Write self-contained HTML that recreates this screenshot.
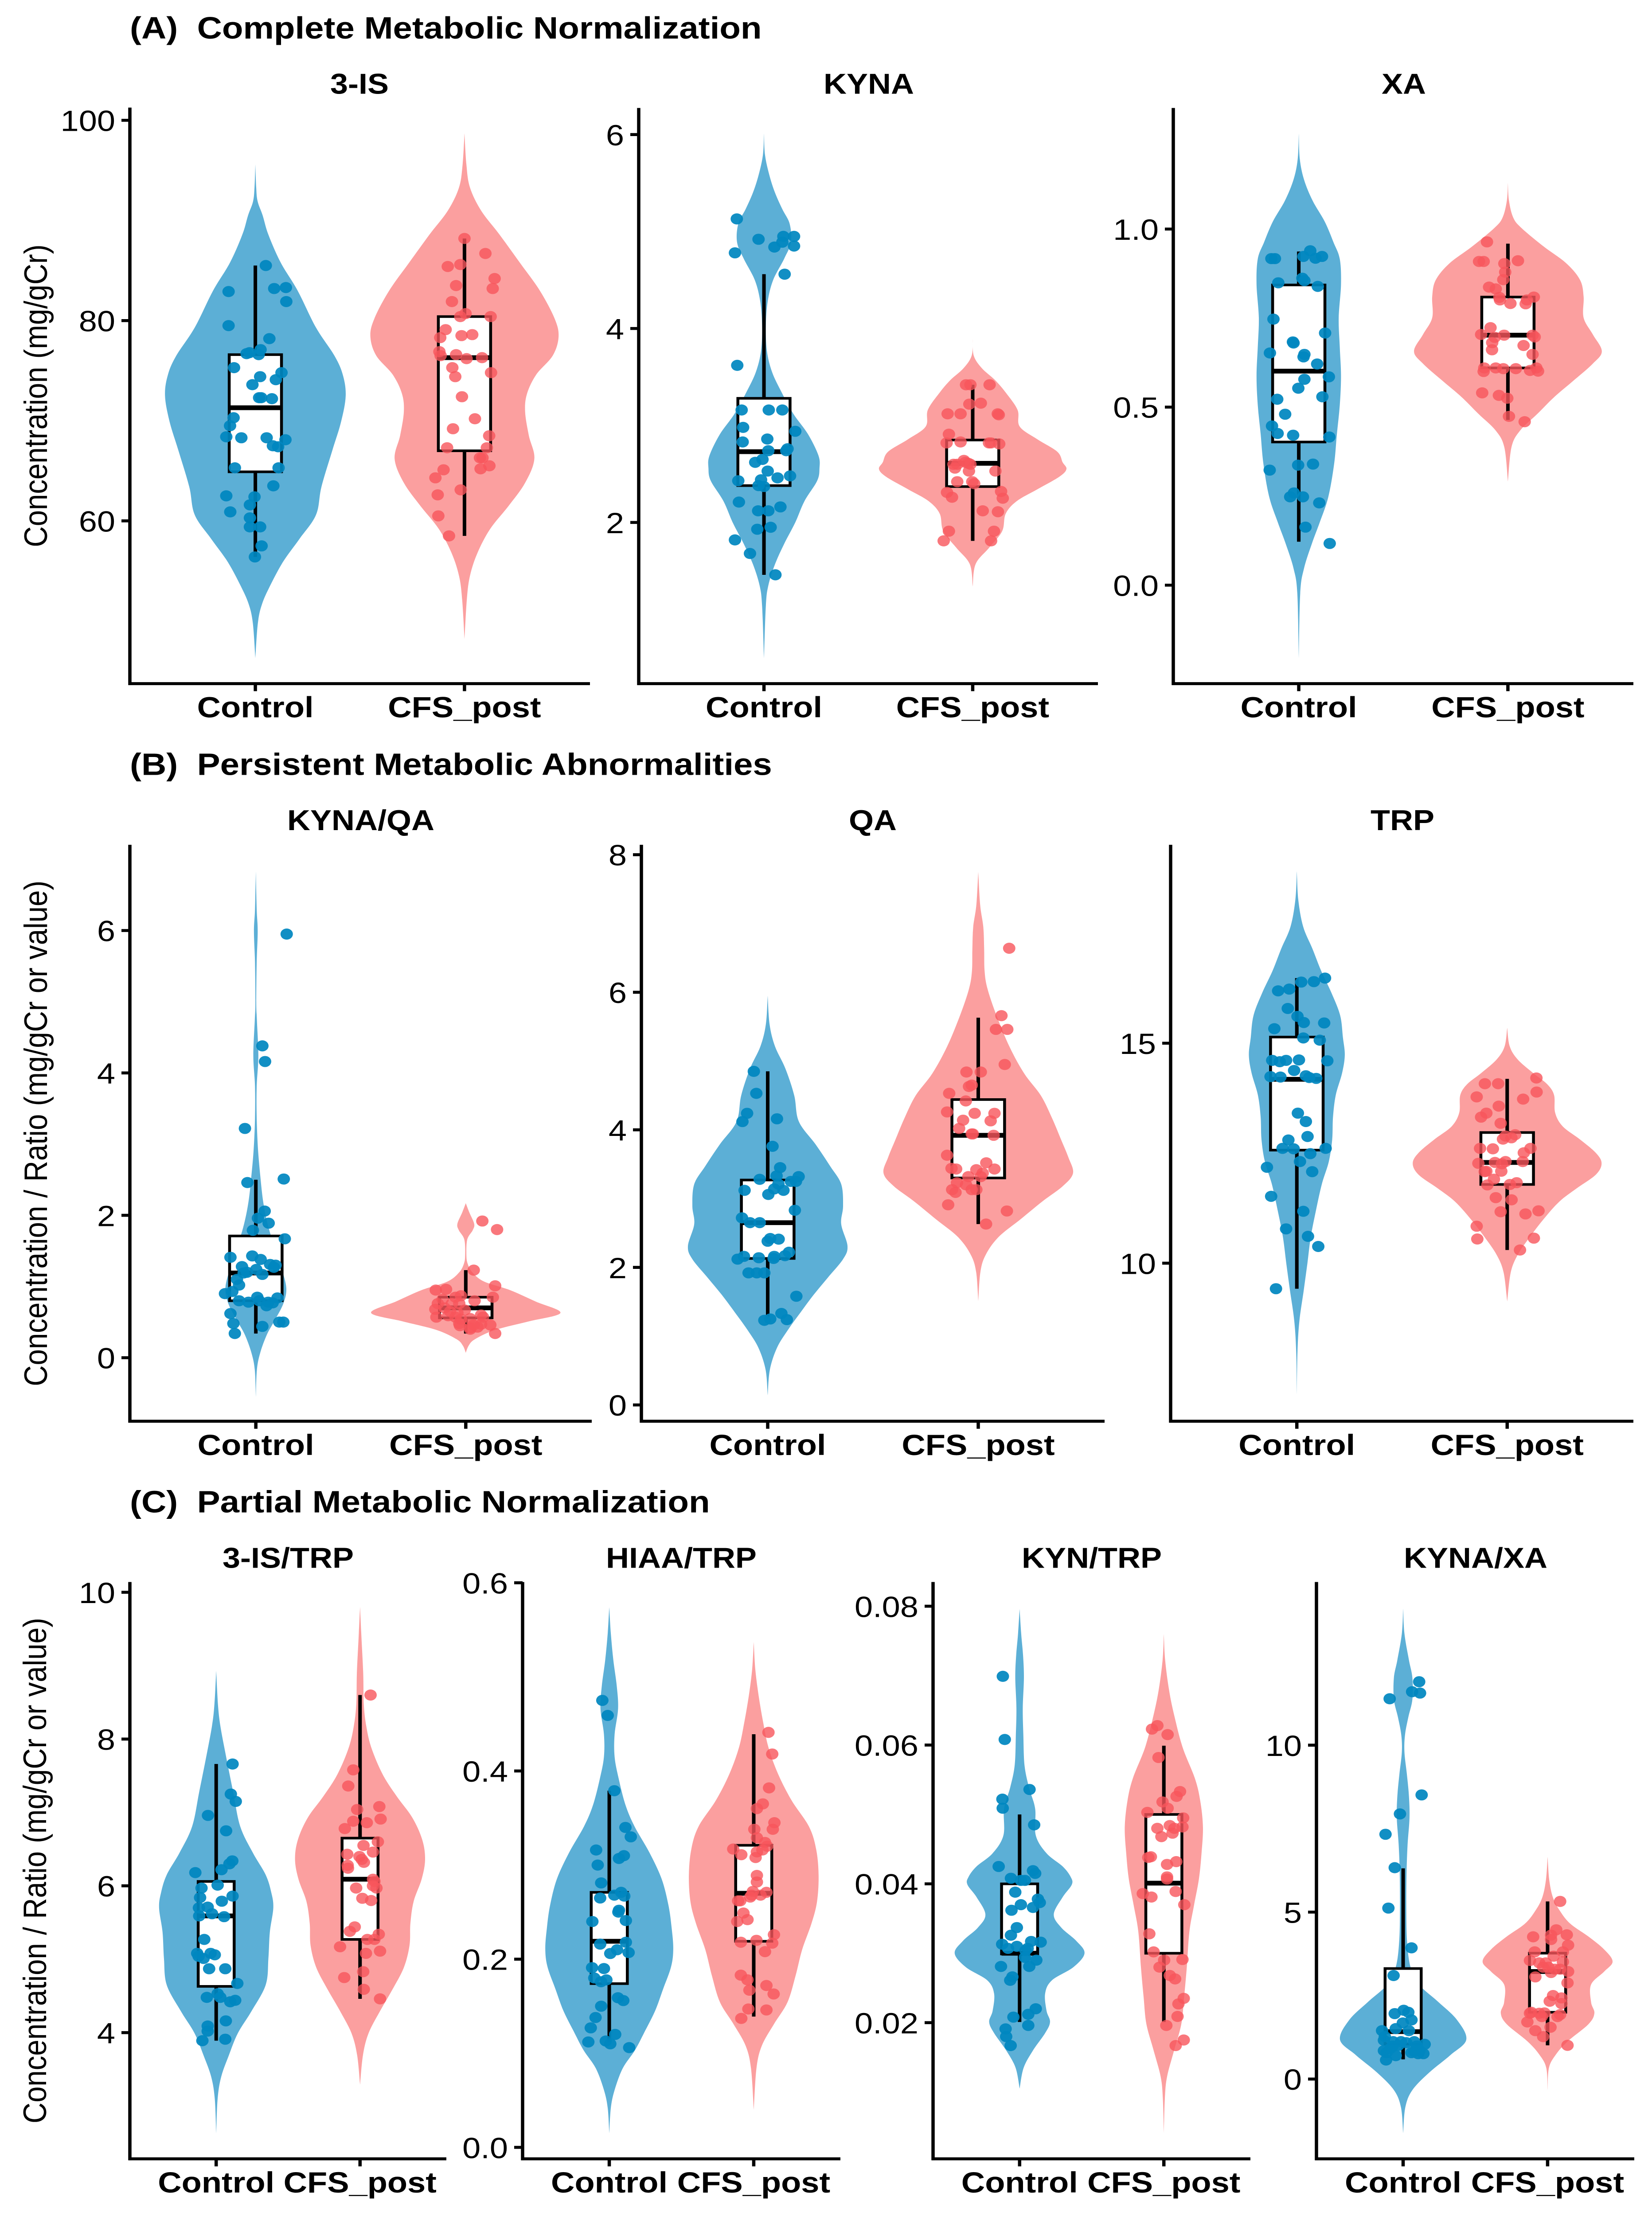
<!DOCTYPE html>
<html lang="en">
<head>
<meta charset="utf-8">
<title>Metabolic normalization violin plots</title>
<style>
html,body{margin:0;padding:0;background:#fff;width:100%;height:100%;overflow:hidden;}
svg{display:block;position:fixed;left:0;top:0;width:100vw;height:100vh;overflow:hidden;}
text{font-family:"Liberation Sans",Arial,sans-serif;fill:#000;white-space:pre;}
.section{font-size:78px;font-weight:bold;}
.ptitle{font-size:72px;font-weight:bold;text-anchor:middle;}
.ytitle{font-size:73px;text-anchor:middle;}
</style>
</head>
<body>
<svg id="chart" xmlns="http://www.w3.org/2000/svg" viewBox="0 0 3727 5582" preserveAspectRatio="none">
<rect x="0" y="0" width="3727" height="5582" fill="#ffffff"/>
<text class="section" x="293" y="97" xml:space="preserve">(A)  Complete Metabolic Normalization</text>
<text class="section" x="293" y="1952" xml:space="preserve">(B)  Persistent Metabolic Abnormalities</text>
<text class="section" x="293" y="3810" xml:space="preserve">(C)  Partial Metabolic Normalization</text>
<text class="ptitle" x="811" y="236">3-IS</text>
<text class="ptitle" x="1960" y="236">KYNA</text>
<text class="ptitle" x="3167" y="236">XA</text>
<text class="ptitle" x="814" y="2091">KYNA/QA</text>
<text class="ptitle" x="1969" y="2091">QA</text>
<text class="ptitle" x="3164" y="2091">TRP</text>
<text class="ptitle" x="650" y="3949">3-IS/TRP</text>
<text class="ptitle" x="1537" y="3949">HIAA/TRP</text>
<text class="ptitle" x="2463" y="3949">KYN/TRP</text>
<text class="ptitle" x="3329" y="3949">KYNA/XA</text>
<text class="ytitle" transform="translate(106,997) rotate(-90)">Concentration (mg/gCr)</text>
<text class="ytitle" transform="translate(106,2855) rotate(-90)">Concentration / Ratio (mg/gCr or value)</text>
<text class="ytitle" transform="translate(104,4712) rotate(-90)">Concentration / Ratio (mg/gCr or value)</text>
</svg>
<script>
const categories=['Control','CFS_post'];

// 3-IS
const is3ControlValues=[85.5,83.2,83.3,81.9,82.9,79.5,78.2,77.1,76.8,76.7,76.6,75.3,74.8,74.4,74.1,73.6,72.3,72.3,72.2,70.3,69.5,68.4,68.3,68.3,68.1,67.5,67.4,65.3,65.3,63.5,62.5,62.4,61.6,60.9,60.3,59.4,59.4,57.5,56.4];
const is3ControlJitter=[.05,.09,.146,.148,-.128,-.128,.067,.025,-.028,-.042,.016,-.102,.125,.023,.098,-.014,.018,.028,.079,-.104,-.121,-.139,-.067,.054,.144,.084,.109,-.098,.111,.086,-.139,-.004,-.026,-.12,-.026,-.026,.023,.03,-.002];
const is3ControlLevels=[95.6,93.3,91.9,90.5,88.6,85.8,83,79.3,76.5,74.6,72.5,69.9,67.1,63.4,60.6,58.2,55.9,53.5,51.7,49.8,46.3];
const is3ControlWidths=[0,.004,.011,.035,.062,.121,.202,.29,.378,.418,.432,.41,.369,.316,.29,.211,.132,.07,.032,.012,0];
const is3ControlBox=[56.4,64.9,71.3,76.6,85.5];
const is3CfsValues=[88.2,86.7,85.4,85.6,84.2,83.5,83.2,81.9,80.7,80.4,80.4,79.1,78.3,78.5,78.6,76.9,76.5,76.6,76.2,76.3,74.8,75.3,74.4,72.4,70.2,69.2,68.5,67.3,67.3,66.3,66.3,65.5,65.2,65.1,64.3,63.1,62.6,60.5,58.5];
const is3CfsJitter=[0,.1,-.08,-.02,.144,-.04,.135,-.06,.005,-.02,.125,-.09,-.116,-.014,.037,-.12,-.114,-.04,.01,.084,.127,-.058,-.044,-.012,.05,-.055,.118,.107,-.083,.074,.086,.119,.077,-.1,-.139,-.018,-.128,-.125,-.074];
const is3CfsLevels=[98.7,95.6,93.3,91,88.6,85.8,83,80.2,78.4,76.5,74.6,72.7,70.9,68.5,66.2,63.8,61.5,59.2,56.8,54.5,52.1,48.2];
const is3CfsWidths=[0,.009,.026,.079,.167,.264,.36,.431,.45,.422,.343,.299,.29,.308,.334,.29,.211,.123,.062,.026,.011,0];
const is3CfsBox=[58.5,67,76.3,80.4,88.2];

// KYNA
const kynaControlValues=[5.13,4.92,4.95,4.95,4.89,4.84,4.85,4.78,4.56,3.62,3.16,3.16,3.16,2.98,2.94,2.86,2.83,2.76,2.74,2.74,2.65,2.62,2.53,2.48,2.46,2.44,2.43,2.38,2.37,2.21,2.16,2.12,2.12,1.95,1.93,1.82,1.68,1.46];
const kynaControlJitter=[-.13,-.026,.093,.144,.088,.05,.144,-.139,.099,-.128,-.107,.023,.088,-.1,.15,.016,-.102,.113,.021,.107,-.007,-.042,.018,.125,.065,-.014,-.123,-.026,0,-.12,.079,-.028,.021,.032,-.032,-.139,-.067,.055];
const kynaControlLevels=[6.01,5.79,5.58,5.4,5.23,5.08,4.89,4.72,4.5,4.28,4.03,3.77,3.55,3.34,3.12,2.91,2.69,2.56,2.43,2.22,2,1.78,1.57,1.35,1.14,.6];
const kynaControlWidths=[0,.005,.026,.053,.088,.123,.129,.097,.044,.018,.009,.014,.039,.085,.141,.211,.261,.266,.255,.194,.15,.097,.053,.021,.009,0];
const kynaControlBox=[1.46,2.38,2.73,3.28,4.56];
const kynaCfsValues=[3.42,3.42,3.42,3.22,3.23,3.12,3.12,3.12,3.11,2.91,2.82,2.83,2.82,2.82,2.81,2.64,2.6,2.6,2.61,2.56,2.53,2.53,2.42,2.42,2.4,2.31,2.32,2.26,2.25,2.12,2.11,1.91,1.91,1.81,1.81,2.62,2.6];
const kynaCfsJitter=[-.032,-.011,.081,-.016,.039,-.12,-.058,.12,.125,-.114,-.125,-.058,.078,.088,.127,-.042,-.092,-.074,-.021,-.085,-.018,.109,-.074,-.002,.007,-.123,.136,-.099,.144,.048,.121,-.114,.102,-.139,.088,-.035,-.011];
const kynaCfsLevels=[3.89,3.72,3.59,3.47,3.34,3.16,2.99,2.86,2.73,2.62,2.55,2.47,2.34,2.22,2.09,1.91,1.74,1.57,1.34];
const kynaCfsWidths=[0,.005,.044,.106,.158,.215,.225,.308,.405,.431,.449,.414,.308,.211,.158,.141,.079,.014,0];
const kynaCfsBox=[1.81,2.37,2.61,2.85,3.42];

// XA
const xaControlValues=[.917,.917,.923,.939,.918,.923,.862,.855,.849,.839,.747,.708,.683,.68,.652,.648,.641,.621,.585,.578,.553,.522,.529,.48,.447,.426,.421,.416,.323,.337,.34,.259,.248,.248,.231,.163,.117];
const xaControlJitter=[-.131,-.114,.022,.055,.08,.111,.017,.027,-.098,.091,-.121,.126,-.028,-.025,-.138,.027,.023,.088,.144,.027,-.002,-.103,.113,-.065,-.128,-.101,-.027,.146,-.139,-.003,.068,-.023,-.041,.02,.098,.032,.148];
const xaControlLevels=[1.268,1.197,1.139,1.08,1.021,.963,.916,.845,.751,.669,.587,.505,.423,.34,.247,.176,.117,.047,-.023,-.205];
const xaControlWidths=[0,.005,.025,.066,.124,.166,.196,.202,.191,.196,.202,.196,.182,.169,.141,.1,.063,.025,.007,0];
const xaControlBox=[.122,.402,.601,.843,.937];
const xaCfsValues=[.964,.909,.909,.911,.903,.879,.858,.837,.832,.808,.809,.801,.801,.791,.79,.723,.704,.696,.702,.702,.697,.681,.673,.661,.648,.61,.6,.61,.608,.608,.61,.603,.601,.54,.533,.525,.474,.459];
const xaCfsJitter=[-.1,-.138,-.116,.048,-.017,-.013,-.022,-.09,-.058,-.041,.124,-.038,.091,.012,.085,-.083,-.128,-.063,-.018,.118,.128,-.075,.075,-.076,.118,-.113,-.116,-.058,-.022,.038,.136,.106,.144,-.123,-.043,-.003,.005,.08];
const xaCfsLevels=[1.129,1.08,1.033,1.004,.951,.904,.857,.81,.751,.704,.657,.622,.575,.528,.481,.434,.387,.291];
const xaCfsWidths=[0,.005,.025,.063,.171,.279,.345,.362,.362,.406,.449,.406,.315,.221,.141,.058,.017,0];
const xaCfsBox=[.464,.61,.702,.809,.959];

// KYNA/QA
const kynaQaControlValues=[5.95,4.38,4.16,3.22,2.46,2.51,2.06,1.96,1.89,1.79,1.67,1.41,1.43,1.38,1.31,1.3,1.28,1.27,1.24,1.2,1.19,1.17,1.1,1.02,.93,.9,.85,.84,.8,.78,.8,.78,.77,.73,.62,.48,.5,.5,.44,.34];
const kynaQaControlJitter=[.147,.031,.044,-.052,-.04,.133,.042,.01,.061,-.014,.138,-.121,-.017,.023,.068,.094,-.066,.086,.002,-.042,-.058,.031,-.09,-.08,-.112,-.147,.007,.103,-.08,-.035,.016,.059,.08,.051,-.121,-.107,.112,.131,.031,-.1];
const kynaQaControlLevels=[6.83,6.3,5.99,5.55,4.99,4.74,4.24,3.81,3.37,2.94,2.56,2.19,1.88,1.57,1.26,.98,.76,.51,.32,.07,-.17,-.55];
const kynaQaControlWidths=[0,.004,.009,.004,.002,.005,.012,.004,.004,.01,.021,.035,.056,.087,.122,.145,.131,.087,.052,.021,.005,0];
const kynaQaControlBox=[.34,.8,1.19,1.71,2.5];
const kynaQaCfsValues=[1.92,1.8,1.23,1.01,.95,.96,.85,.87,.85,.8,.82,.76,.76,.76,.7,.68,.67,.65,.63,.6,.57,.57,.55,.54,.59,.57,.48,.46,.47,.46,.45,.42,.34,.4,.43];
const kynaQaCfsJitter=[.079,.149,.038,.14,-.143,-.094,.129,-.023,-.049,.042,-.11,-.133,-.066,-.031,-.101,-.145,-.005,-.075,-.04,.073,-.14,-.049,.021,-.023,-.084,.082,-.031,.117,.073,.038,-.028,.021,.14,.021,.056];
const kynaQaCfsLevels=[2.17,2.04,1.88,1.79,1.66,1.44,1.32,1.2,1.07,.95,.79,.63,.51,.39,.26,.17,.07];
const kynaQaCfsWidths=[0,.017,.04,.033,.007,.003,.009,.031,.087,.21,.332,.451,.3,.14,.044,.014,0];
const kynaQaCfsBox=[.34,.56,.7,.85,1.23];

// QA
const qaControlValues=[4.85,4.53,4.24,4.12,4.16,3.76,3.45,3.33,3.28,3.32,3.25,3.25,3.21,3.12,3.12,3.14,3.06,2.83,2.72,2.65,2.65,2.42,2.41,2.38,2.22,2.17,2.16,2.12,2.14,2.16,2.13,1.92,1.92,1.92,1.58,1.33,1.25,1.23,1.24];
const qaControlJitter=[-.066,-.054,-.098,-.12,.044,.023,.059,.042,-.038,.147,.11,.134,.051,.075,-.11,.031,.003,.129,-.122,-.084,-.038,.012,.052,0,.101,.082,-.113,-.143,-.042,.031,.028,-.091,-.052,-.016,.136,.065,.012,-.016,.091];
const qaControlLevels=[5.95,5.53,5.21,4.89,4.5,4.12,3.79,3.47,3.21,2.89,2.63,2.31,2.12,1.86,1.6,1.35,1.09,.83,.51,.14];
const qaControlWidths=[0,.009,.035,.084,.126,.148,.227,.297,.349,.358,.349,.379,.358,.288,.218,.157,.096,.044,.01,0];
const qaControlBox=[1.25,2.13,2.65,3.27,4.85];
const qaCfsValues=[6.64,5.66,5.46,5.46,4.95,4.84,4.84,4.65,4.63,4.53,4.42,4.26,4.24,4.24,4.14,4.13,4.02,3.94,3.94,3.92,3.63,3.52,3.44,3.43,3.42,3.43,3.37,3.32,3.32,3.23,3.2,3.13,3.09,3.13,3.13,2.91,2.82,2.63];
const qaCfsJitter=[.147,.11,.084,.138,.126,-.056,.012,-.031,-.044,-.138,-.059,-.148,-.017,.077,-.072,.059,-.091,-.026,-.031,.073,-.148,.038,-.127,-.105,-.009,.077,.021,.012,-.047,-.101,-.058,-.124,-.108,-.031,-.009,-.143,.136,.037];
const qaCfsLevels=[7.75,7.27,6.95,6.63,6.31,6.05,5.66,5.21,4.82,4.5,4.18,3.86,3.6,3.37,3.18,2.96,2.7,2.44,2.18,1.93,1.51];
const qaCfsWidths=[0,.009,.024,.028,.03,.044,.087,.148,.218,.297,.349,.393,.428,.45,.401,.305,.201,.096,.035,.01,0];
const qaCfsBox=[2.63,3.3,3.92,4.44,5.63];

// TRP
const trpControlValues=[16.48,16.4,16.39,16.23,16.19,15.79,15.61,15.47,15.46,15.33,15.12,15.07,14.61,14.58,14.61,14.62,14.6,14.38,14.24,14.23,14.26,14.22,14.2,13.41,13.22,12.88,12.8,12.61,12.6,12.61,12.49,12.31,12.18,12.08,11.52,11.18,10.78,10.61,10.38,9.42];
const trpControlJitter=[.134,.081,.021,-.036,-.089,-.043,.003,.033,.13,-.107,.031,.109,-.117,-.081,-.051,.01,.145,-.013,-.125,-.078,.043,.059,.092,.005,.043,.051,-.04,-.068,-.015,.137,.064,.015,-.142,.073,-.122,.031,-.051,.053,.102,-.099];
const trpControlLevels=[18.91,18.26,17.65,17.15,16.64,16.14,15.63,15.13,14.73,14.32,13.82,13.32,12.81,12.31,11.8,11.2,10.59,9.99,9.39,8.68,7.97,7.02];
const trpControlWidths=[0,.007,.03,.074,.116,.165,.206,.219,.228,.215,.185,.172,.168,.152,.119,.091,.066,.05,.033,.012,.003,0];
const trpControlBox=[9.42,12.57,14.18,15.14,16.48];
const trpCfsValues=[14.21,14.08,14.08,13.89,13.78,13.73,13.57,13.41,13.32,13.18,12.92,12.89,12.85,12.82,12.61,12.6,12.61,12.51,12.29,12.31,12.31,12.27,12.26,12.09,12.09,12.08,11.91,11.83,11.79,11.78,11.49,11.44,11.17,11.19,11.12,10.84,10.57,10.55,10.3];
const trpCfsJitter=[.139,-.106,-.043,.14,-.145,.076,-.04,-.099,-.124,-.031,.038,-.008,.02,-.02,-.129,-.068,.111,.079,-.058,-.008,.074,-.137,-.025,-.028,-.099,-.107,-.063,.045,.013,-.094,-.054,.021,-.031,.149,.087,-.145,.127,-.142,.061];
const trpCfsLevels=[15.35,14.93,14.63,14.32,14.07,13.82,13.42,13.11,12.81,12.51,12.27,12.01,11.7,11.4,11,10.59,10.19,9.79,9.13];
const trpCfsWidths=[0,.012,.05,.124,.19,.223,.228,.264,.347,.421,.449,.421,.33,.248,.173,.107,.05,.017,0];
const trpCfsBox=[10.3,11.79,12.29,12.97,14.19];

// 3-IS/TRP
const isTrpControlValues=[7.66,7.25,7.15,6.96,6.75,6.34,6.3,6.22,6.18,6.01,5.97,5.86,5.84,5.79,5.71,5.7,5.62,5.59,5.58,5.27,5.08,5.08,5.06,5.04,5.01,4.87,4.87,4.67,4.53,4.48,4.48,4.42,4.44,4.16,4.09,4.02,3.91,3.89];
const isTrpControlJitter=[.114,.102,.136,-.057,.069,.112,.092,.037,-.145,.01,-.102,.114,-.112,.039,-.059,-.12,-.029,-.118,.055,-.083,-.132,-.039,-.01,-.122,-.088,-.049,.063,.147,.01,-.065,.029,.098,.132,.067,-.059,-.059,.063,-.096];
const isTrpControlLevels=[8.93,8.48,8.18,7.76,7.28,6.81,6.45,6.15,5.91,5.7,5.37,5.01,4.65,4.29,3.99,3.69,3.4,3.1,2.63];
const isTrpControlWidths=[0,.012,.029,.069,.118,.167,.255,.344,.383,.397,.373,.363,.344,.245,.15,.088,.035,.01,0];
const isTrpControlBox=[3.89,4.63,5.59,6.06,7.66];
const isTrpCfsValues=[8.6,7.58,7.36,7.04,7.08,6.88,6.86,6.91,6.78,6.6,6.55,6.43,6.46,6.4,6.36,6.32,6.28,6.24,6.09,6.06,6,5.97,5.97,5.83,5.8,5.44,5.38,5.34,5.27,5.27,5.17,5.08,5.11,4.83,4.75,4.59,4.46];
const isTrpCfsJitter=[.073,-.047,-.082,-.02,.134,-.047,.047,.143,-.106,.124,.024,-.089,.09,-.004,.012,.027,-.086,-.084,.09,.1,.09,.114,-.027,.016,.077,-.037,-.071,.13,.051,.1,-.139,.041,.139,.022,-.11,.026,.139];
const isTrpCfsLevels=[9.8,9.38,8.9,8.48,8.18,7.88,7.52,7.22,6.93,6.63,6.36,6.09,5.79,5.49,5.19,4.89,4.59,4.29,3.99,3.69,3.29];
const isTrpCfsWidths=[0,.01,.022,.026,.043,.079,.157,.255,.363,.432,.452,.428,.373,.35,.344,.305,.226,.138,.059,.02,0];
const isTrpCfsBox=[4.46,5.27,6.09,6.65,8.6];

// HIAA/TRP
const hiaaTrpControlValues=[.475,.459,.379,.34,.33,.316,.31,.307,.3,.281,.268,.271,.267,.265,.252,.25,.241,.24,.218,.216,.21,.206,.207,.191,.19,.18,.178,.176,.159,.156,.15,.138,.127,.12,.112,.113,.11,.106];
const hiaaTrpControlJitter=[-.048,-.011,.035,.112,.149,-.091,.101,.067,-.08,-.056,.035,.082,.104,-.063,.067,.063,.115,-.117,.115,-.063,.054,.007,.134,-.119,-.037,-.104,-.02,-.057,.06,.097,-.056,-.095,-.128,.041,-.145,-.024,.007,.138];
const hiaaTrpControlLevels=[.574,.546,.518,.49,.466,.439,.415,.392,.364,.341,.313,.285,.257,.233,.211,.192,.168,.145,.122,.103,.084,.061,.042,.015];
const hiaaTrpControlWidths=[0,.011,.028,.052,.061,.037,.037,.065,.112,.175,.279,.363,.41,.432,.443,.428,.372,.317,.242,.177,.093,.037,.011,0];
const hiaaTrpControlBox=[.112,.174,.219,.271,.379];
const hiaaTrpCfsValues=[.441,.418,.382,.365,.36,.345,.338,.338,.329,.324,.32,.317,.316,.314,.311,.308,.289,.282,.272,.271,.268,.268,.266,.262,.262,.249,.242,.24,.226,.218,.22,.217,.208,.183,.178,.172,.167,.163,.147,.146,.137];
const hiaaTrpCfsJitter=[.102,.128,.106,.063,.022,.143,.004,.132,.022,.078,.093,-.142,.06,.022,-.086,.013,.022,.022,-.006,.088,-.015,.047,-.024,-.108,-.093,-.071,-.043,-.114,.14,-.089,.019,.128,.078,-.089,-.043,.088,-.03,.138,-.037,.088,-.086];
const hiaaTrpCfsLevels=[.537,.508,.48,.452,.425,.397,.369,.341,.317,.289,.261,.238,.21,.182,.154,.131,.108,.084,.04];
const hiaaTrpCfsWidths=[0,.011,.034,.065,.102,.168,.261,.382,.432,.449,.438,.4,.335,.289,.233,.14,.056,.019,0];
const hiaaTrpCfsBox=[.139,.219,.27,.321,.439];

// KYN/TRP
const kynTrpControlValues=[.0699,.0608,.0536,.0522,.0509,.0485,.0425,.0419,.0415,.0408,.0405,.0405,.0388,.0378,.0373,.037,.0366,.0362,.0337,.0326,.0317,.0313,.0316,.031,.0307,.0307,.0304,.0294,.029,.0281,.0281,.0266,.0261,.022,.0212,.0208,.0196,.0191,.018,.0167];
const kynTrpControlJitter=[-.116,-.103,.069,-.119,-.117,.101,-.145,.093,.108,-.06,.009,.037,-.03,.127,.14,.009,.093,-.056,-.019,-.06,.08,-.121,.146,-.019,-.08,.056,.041,.037,.116,-.129,.067,-.05,-.065,.112,.06,-.043,.06,-.097,-.093,-.062];
const kynTrpControlLevels=[.0796,.076,.0729,.0697,.0653,.0615,.0571,.0539,.0508,.047,.0444,.0425,.041,.0399,.0381,.0356,.0337,.0318,.03,.028,.0261,.0242,.0217,.0201,.0185,.016,.0135,.0105];
const kynTrpControlWidths=[0,.011,.024,.03,.022,.026,.034,.065,.108,.112,.187,.299,.354,.362,.299,.237,.289,.392,.45,.373,.224,.177,.187,.211,.177,.093,.028,0];
const kynTrpControlBox=[.0201,.0299,.03,.04,.05];
const kynTrpCfsValues=[.0623,.0628,.0615,.0582,.0533,.0526,.0518,.0509,.0503,.0495,.048,.0484,.048,.0482,.0473,.0468,.0439,.0438,.0432,.0428,.041,.0407,.0389,.0386,.0381,.037,.0328,.0302,.029,.0291,.028,.0268,.0263,.0235,.0227,.0209,.0196,.0175,.0167];
const kynTrpCfsJitter=[-.082,-.045,.026,-.037,.112,.088,-.009,.026,-.114,.134,-.045,.041,.073,.129,.06,-.017,-.09,-.108,.086,.022,.022,.022,.082,-.146,-.086,.142,-.101,-.071,.002,.129,-.03,.041,.078,.138,.101,.095,.017,.138,.082];
const kynTrpCfsLevels=[.076,.0722,.0678,.064,.0596,.0552,.052,.0482,.0444,.0407,.0369,.0331,.028,.0236,.0198,.016,.0122,.0091,.0041];
const kynTrpCfsWidths=[0,.009,.037,.075,.131,.215,.252,.271,.261,.243,.209,.177,.159,.14,.121,.071,.022,.007,0];
const kynTrpCfsBox=[.0201,.03,.0401,.05,.0599];

// KYNA/XA
const kynaXaControlValues=[11.9,11.6,11.56,11.39,8.51,7.94,7.33,6.33,5.12,3.93,3.1,2.06,1.96,2,1.77,1.68,1.51,1.45,1.45,1.27,1.12,1.16,1.12,1.12,1.04,.99,.85,1.01,.92,.83,.79,.76,.76,.7,.57,.99,1.09,.79,.85];
const kynaXaControlJitter=[.111,.062,.117,-.093,.128,-.022,-.122,-.058,-.102,.058,-.066,.004,-.058,.036,.058,-.002,-.051,-.146,.04,-.127,-.069,-.133,-.015,.077,.149,.095,-.133,-.033,-.087,.077,.058,.104,.14,-.051,-.118,-.073,.022,-.115,.113];
const kynaXaControlLevels=[14.09,13.34,12.55,12.02,11.37,10.84,10.31,9.79,9.13,8.48,7.82,7.03,6.24,5.19,4.14,3.35,2.83,2.3,1.77,1.18,.72,.2,-.33,-.85,-1.62];
const kynaXaControlWidths=[0,.009,.04,.064,.064,.036,.013,.009,.026,.04,.044,.031,.024,.022,.027,.051,.109,.246,.373,.437,.328,.182,.064,.015,0];
const kynaXaControlBox=[.59,1.05,1.42,3.31,6.31];
const kynaXaCfsValues=[5.32,4.47,4.26,4.32,4.31,4.18,4.01,3.81,3.81,3.68,3.55,3.51,3.48,3.48,3.35,3.29,3.22,3.19,3.06,2.88,2.5,2.43,2.33,2.26,2,1.98,1.93,1.71,1.87,1.87,1.45,1.55,1.27,1.01,1.97,3.29,3.35,1.97];
const kynaXaCfsJitter=[.087,.06,-.1,.133,.024,.024,.142,.106,-.089,.042,-.122,.106,-.058,-.013,.005,.087,.142,.024,-.085,.138,.038,.096,.015,.096,-.113,-.022,.087,-.14,-.04,.069,-.085,.02,-.031,.138,-.058,.051,-.031,-.122];
const kynaXaCfsLevels=[6.66,5.98,5.45,5.06,4.66,4.27,3.88,3.52,3.22,2.83,2.3,1.97,1.64,1.12,.72,.33,-.33];
const kynaXaCfsWidths=[0,.011,.036,.082,.155,.282,.392,.45,.392,.301,.301,.324,.282,.137,.055,.009,0];
const kynaXaCfsBox=[1.01,2,3.22,3.77,5.32];

// Axis tick labels
const is3Ticks=['60','80','100'];
const kynaTicks=['2','4','6'];
const xaTicks=['0.0','0.5','1.0'];
const kynaQaTicks=['0','2','4','6'];
const qaTicks=['0','2','4','6','8'];
const trpTicks=['10','15'];
const isTrpTicks=['4','6','8','10'];
const hiaaTrpTicks=['0.0','0.2','0.4','0.6'];
const kynTrpTicks=['0.02','0.04','0.06','0.08'];
const kynaXaTicks=['0','5','10'];

const panels=[
 {slug:'3-is',frame:[293,1331,271,1722],domain:[43.75,101.27],ticks:is3Ticks,control:[is3ControlValues,is3ControlJitter,is3ControlLevels,is3ControlWidths,is3ControlBox],cfs:[is3CfsValues,is3CfsJitter,is3CfsLevels,is3CfsWidths,is3CfsBox]},
 {slug:'kyna',frame:[1441,2477,272,1722],domain:[.338,6.274],ticks:kynaTicks,control:[kynaControlValues,kynaControlJitter,kynaControlLevels,kynaControlWidths,kynaControlBox],cfs:[kynaCfsValues,kynaCfsJitter,kynaCfsLevels,kynaCfsWidths,kynaCfsBox]},
 {slug:'xa',frame:[2647,3685,272,1722],domain:[-.2765,1.34],ticks:xaTicks,control:[xaControlValues,xaControlJitter,xaControlLevels,xaControlWidths,xaControlBox],cfs:[xaCfsValues,xaCfsJitter,xaCfsLevels,xaCfsWidths,xaCfsBox]},
 {slug:'kyna-qa',frame:[293,1335,2128,3580],domain:[-.892,7.204],ticks:kynaQaTicks,control:[kynaQaControlValues,kynaQaControlJitter,kynaQaControlLevels,kynaQaControlWidths,kynaQaControlBox],cfs:[kynaQaCfsValues,kynaQaCfsJitter,kynaQaCfsLevels,kynaQaCfsWidths,kynaQaCfsBox]},
 {slug:'qa',frame:[1447,2492,2128,3580],domain:[-.237,8.144],ticks:qaTicks,control:[qaControlValues,qaControlJitter,qaControlLevels,qaControlWidths,qaControlBox],cfs:[qaCfsValues,qaCfsJitter,qaCfsLevels,qaCfsWidths,qaCfsBox]},
 {slug:'trp',frame:[2641,3685,2128,3580],domain:[6.408,19.51],ticks:trpTicks,control:[trpControlValues,trpControlJitter,trpControlLevels,trpControlWidths,trpControlBox],cfs:[trpCfsValues,trpCfsJitter,trpCfsLevels,trpCfsWidths,trpCfsBox]},
 {slug:'3-is-trp',frame:[293,1007,3985,5438],domain:[2.28,10.14],ticks:isTrpTicks,control:[isTrpControlValues,isTrpControlJitter,isTrpControlLevels,isTrpControlWidths,isTrpControlBox],cfs:[isTrpCfsValues,isTrpCfsJitter,isTrpCfsLevels,isTrpCfsWidths,isTrpCfsBox]},
 {slug:'hiaa-trp',frame:[1179,1896,3985,5438],domain:[-.0122,.6008],ticks:hiaaTrpTicks,control:[hiaaTrpControlValues,hiaaTrpControlJitter,hiaaTrpControlLevels,hiaaTrpControlWidths,hiaaTrpControlBox],cfs:[hiaaTrpCfsValues,hiaaTrpCfsJitter,hiaaTrpCfsLevels,hiaaTrpCfsWidths,hiaaTrpCfsBox]},
 {slug:'kyn-trp',frame:[2105,2821,3985,5438],domain:[.00038,.08349],ticks:kynTrpTicks,control:[kynTrpControlValues,kynTrpControlJitter,kynTrpControlLevels,kynTrpControlWidths,kynTrpControlBox],cfs:[kynTrpCfsValues,kynTrpCfsJitter,kynTrpCfsLevels,kynTrpCfsWidths,kynTrpCfsBox]},
 {slug:'kyna-xa',frame:[2970,3687,3985,5438],domain:[-2.39,14.887],ticks:kynaXaTicks,control:[kynaXaControlValues,kynaXaControlJitter,kynaXaControlLevels,kynaXaControlWidths,kynaXaControlBox],cfs:[kynaXaCfsValues,kynaXaCfsJitter,kynaXaCfsLevels,kynaXaCfsWidths,kynaXaCfsBox]}
];

const NS='http://www.w3.org/2000/svg';
const root=document.getElementById('chart');
const palette=[
 {violin:'#5cafd6',point:'#0086c0',pointOpacity:.93},
 {violin:'#fb9f9f',point:'#f8555b',pointOpacity:.8}
];
function shape(parent,tag,geometry){
  const node=document.createElementNS(NS,tag);
  for(const key in geometry){node.setAttribute(key,geometry[key]);}
  parent.appendChild(node);
  return node;
}
function smoothSide(pts){
  let d='';
  for(let i=0;i<pts.length-1;i++){
    const p0=pts[Math.max(i-1,0)],p1=pts[i],p2=pts[i+1],p3=pts[Math.min(i+2,pts.length-1)];
    const c1x=p1[0]+(p2[0]-p0[0])/6,c1y=p1[1]+(p2[1]-p0[1])/6;
    const c2x=p2[0]-(p3[0]-p1[0])/6,c2y=p2[1]-(p3[1]-p1[1])/6;
    d+='C'+c1x.toFixed(1)+' '+c1y.toFixed(1)+' '+c2x.toFixed(1)+' '+c2y.toFixed(1)+' '+p2[0].toFixed(1)+' '+p2[1].toFixed(1);
  }
  return d;
}
panels.forEach(function(panel){
  const x0=panel.frame[0],x1=panel.frame[1],top=panel.frame[2],bottom=panel.frame[3];
  const unit=(x1-x0)/2.2;
  const xScale=function(index,offset){return x0+(0.6+index+offset)*unit;};
  const yScale=function(v){return bottom-(v-panel.domain[0])/(panel.domain[1]-panel.domain[0])*(bottom-top);};

  const group=shape(root,'g',{});
  
  

  [panel.control,panel.cfs].forEach(function(series,i){
    const values=series[0],jitter=series[1],levels=series[2],widths=series[3],box=series[4];
    const side=i===0?'control':'cfs-post';
    const colors=palette[i];
    const center=xScale(i,0);

    const right=levels.map(function(v,k){return [center+widths[k]*unit,yScale(v)];});
    const left=levels.map(function(v,k){return [center-widths[k]*unit,yScale(v)];}).reverse();
    const violin=shape(group,'path',{d:'M'+right[0][0].toFixed(1)+' '+right[0][1].toFixed(1)+smoothSide(right)+smoothSide(left)+'Z',fill:colors.violin});
    
    

    const whisker=shape(group,'line',{x1:center,x2:center,y1:yScale(box[0]),y2:yScale(box[4]),stroke:'#000','stroke-width':8});
    
    

    const half=unit*0.125;
    const boxTop=yScale(box[3]),boxBottom=yScale(box[1]);
    const rect=shape(group,'rect',{x:center-half,y:boxTop,width:2*half,height:boxBottom-boxTop,fill:'#fff',stroke:'#000','stroke-width':6.5});
    
    

    const median=shape(group,'line',{x1:center-half,x2:center+half,y1:yScale(box[2]),y2:yScale(box[2]),stroke:'#000','stroke-width':12});
    
    

    values.forEach(function(v,k){
      const dot=shape(group,'circle',{cx:xScale(i,jitter[k]).toFixed(1),cy:yScale(v).toFixed(1),r:14,fill:colors.point,'fill-opacity':colors.pointOpacity});
      
      
    });

    const tick=shape(group,'line',{x1:center,x2:center,y1:bottom,y2:bottom+19,stroke:'#000','stroke-width':7.5});
    
    

    const label=shape(group,'text',{x:center,y:bottom+85,'text-anchor':'middle','font-size':74,'font-weight':'bold'});
    label.textContent=categories[i];
    
    
  });

  const yAxis=shape(group,'line',{x1:x0,x2:x0,y1:top,y2:bottom+3.5,stroke:'#000','stroke-width':7.5});
  
  
  const xAxis=shape(group,'line',{x1:x0-3.5,x2:x1,y1:bottom,y2:bottom,stroke:'#000','stroke-width':7.5});
  
  

  panel.ticks.forEach(function(tickLabel){
    const y=yScale(parseFloat(tickLabel));
    const mark=shape(group,'line',{x1:x0-19,x2:x0,y1:y,y2:y,stroke:'#000','stroke-width':7.5});
    
    
    const text=shape(group,'text',{x:x0-33,y:y+27,'text-anchor':'end','font-size':74});
    text.textContent=tickLabel;
    
    
  });
});
</script>
</body>
</html>
